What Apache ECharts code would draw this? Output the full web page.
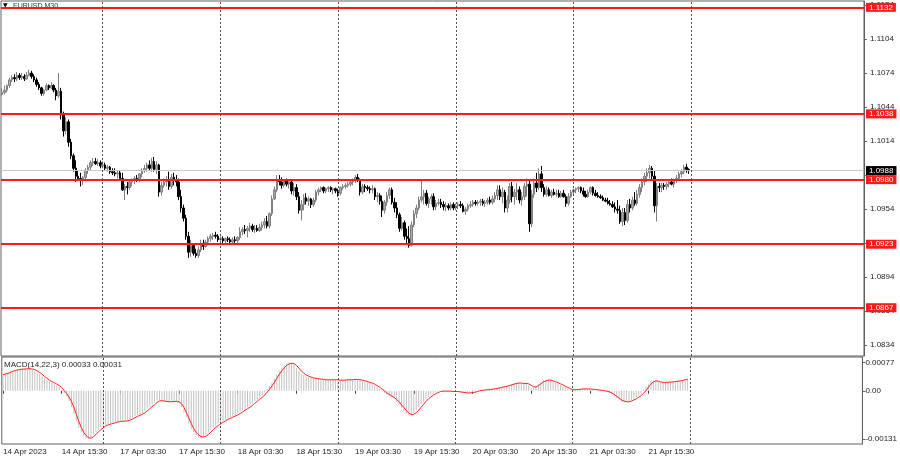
<!DOCTYPE html>
<html><head><meta charset="utf-8">
<script src="https://cdn.jsdelivr.net/npm/echarts@6/dist/echarts.min.js"></script>
<style>html,body{margin:0;padding:0;background:#fff}#c{width:900px;height:460px}</style>
</head><body><div id="c"></div>
<script>
// EURUSD M30, 14 Apr 2023 03:30 .. 21 Apr 2023 23:30 (281 bars)
const opens=[
1.1055,1.1057,1.1059,1.1063,1.1068,1.1070,1.1069,1.1072,1.1070,1.1071,
1.1069,1.1072,1.1074,1.1071,1.1068,1.1064,1.1061,1.1056,1.1059,1.1063,
1.1061,1.1063,1.1059,1.1054,1.1058,1.1037,1.1023,1.1031,1.1013,1.1001,
1.0990,1.0983,1.0981,1.0980,1.0982,1.0988,1.0991,1.0995,1.0996,1.0994,
1.0995,1.0992,1.0993,1.0990,1.0991,1.0987,1.0986,1.0985,1.0986,1.0981,
1.0971,1.0974,1.0973,1.0978,1.0980,1.0981,1.0980,1.0985,1.0988,1.0990,
1.0993,1.0990,1.0996,1.0989,1.0993,1.0969,1.0975,1.0978,1.0980,1.0974,
1.0982,1.0980,1.0978,1.0965,1.0955,1.0946,1.0930,1.0916,1.0922,1.0915,
1.0913,1.0918,1.0923,1.0921,1.0925,1.0928,1.0930,1.0931,1.0930,1.0927,
1.0928,1.0926,1.0928,1.0927,1.0925,1.0927,1.0926,1.0929,1.0934,1.0936,
1.0935,1.0937,1.0939,1.0936,1.0937,1.0935,1.0938,1.0940,1.0943,1.0939,
1.0950,1.0963,1.0971,1.0980,1.0978,1.0975,1.0979,1.0976,1.0978,1.0970,
1.0973,1.0965,1.0953,1.0958,1.0964,1.0961,1.0963,1.0958,1.0962,1.0969,
1.0971,1.0973,1.0970,1.0972,1.0973,1.0971,1.0972,1.0970,1.0968,1.0973,
1.0974,1.0975,1.0976,1.0978,1.0980,1.0982,1.0980,1.0969,1.0974,1.0973,
1.0972,1.0971,1.0972,1.0965,1.0966,1.0961,1.0953,1.0960,1.0966,1.0971,
1.0960,1.0955,1.0949,1.0937,1.0942,1.0930,1.0928,1.0922,1.0940,1.0950,
1.0955,1.0962,1.0965,1.0968,1.0959,1.0963,1.0965,1.0956,1.0959,1.0960,
1.0958,1.0956,1.0957,1.0955,1.0958,1.0955,1.0957,1.0958,1.0957,1.0952,
1.0954,1.0957,1.0958,1.0960,1.0959,1.0960,1.0961,1.0959,1.0960,1.0962,
1.0960,1.0963,1.0966,1.0971,1.0965,1.0969,1.0955,1.0962,1.0974,1.0965,
1.0969,1.0971,1.0962,1.0965,1.0974,1.0976,1.0941,1.0967,1.0977,1.0973,
1.0985,1.0973,1.0967,1.0971,1.0966,1.0969,1.0967,1.0968,1.0965,1.0968,
1.0965,1.0959,1.0965,1.0969,1.0971,1.0972,1.0973,1.0970,1.0967,1.0965,
1.0969,1.0973,1.0968,1.0966,1.0965,1.0964,1.0962,1.0961,1.0959,1.0958,
1.0956,1.0954,1.0953,1.0943,1.0951,1.0944,1.0958,1.0955,1.0962,1.0959,
1.0967,1.0973,1.0978,1.0983,1.0986,1.0990,1.0983,1.0957,1.0974,1.0973,
1.0975,1.0974,1.0976,1.0978,1.0976,1.0980,1.0981,1.0985,1.0987,1.0991,
1.0989];
const highs=[
1.1061,1.1063,1.1064,1.1070,1.1072,1.1073,1.1075,1.1074,1.1074,1.1073,
1.1075,1.1077,1.1076,1.1073,1.1070,1.1066,1.1062,1.1060,1.1065,1.1064,
1.1066,1.1064,1.1061,1.1074,1.1061,1.1040,1.1035,1.1033,1.1016,1.1003,
1.0997,1.0988,1.0986,1.0983,1.0990,1.0993,1.0997,1.0999,1.0999,1.0998,
1.0997,1.0996,1.0995,1.0993,1.0992,1.0990,1.0990,1.0988,1.0988,1.0986,
1.0976,1.0978,1.0980,1.0981,1.0983,1.0984,1.0986,1.0990,1.0993,1.0995,
1.0997,1.0999,1.1000,1.0996,1.0994,1.0978,1.0981,1.0983,1.0987,1.0985,
1.0986,1.0984,1.0981,1.0971,1.0958,1.0949,1.0934,1.0927,1.0924,1.0919,
1.0921,1.0927,1.0927,1.0927,1.0930,1.0932,1.0933,1.0934,1.0932,1.0930,
1.0930,1.0929,1.0930,1.0929,1.0929,1.0930,1.0930,1.0938,1.0938,1.0940,
1.0939,1.0942,1.0941,1.0940,1.0940,1.0941,1.0943,1.0946,1.0948,1.0951,
1.0966,1.0974,1.0984,1.0984,1.0982,1.0980,1.0981,1.0980,1.0980,1.0977,
1.0976,1.0969,1.0962,1.0967,1.0968,1.0965,1.0964,1.0964,1.0971,1.0973,
1.0974,1.0974,1.0973,1.0974,1.0974,1.0973,1.0973,1.0972,1.0974,1.0976,
1.0977,1.0978,1.0980,1.0981,1.0984,1.0985,1.0981,1.0976,1.0976,1.0975,
1.0974,1.0975,1.0973,1.0969,1.0968,1.0966,1.0962,1.0969,1.0973,1.0973,
1.0964,1.0960,1.0951,1.0947,1.0944,1.0937,1.0939,1.0943,1.0953,1.0958,
1.0965,1.0980,1.0971,1.0971,1.0965,1.0967,1.0968,1.0962,1.0963,1.0963,
1.0961,1.0960,1.0959,1.0960,1.0960,1.0959,1.0960,1.0961,1.0959,1.0956,
1.0959,1.0961,1.0962,1.0962,1.0962,1.0963,1.0963,1.0962,1.0964,1.0965,
1.0966,1.0969,1.0975,1.0975,1.0973,1.0971,1.0966,1.0977,1.0978,1.0972,
1.0977,1.0974,1.0969,1.0977,1.0981,1.0980,1.0971,1.0981,1.0986,1.0990,
1.0992,1.0976,1.0974,1.0973,1.0971,1.0972,1.0971,1.0971,1.0970,1.0971,
1.0967,1.0968,1.0971,1.0972,1.0973,1.0974,1.0974,1.0973,1.0970,1.0971,
1.0974,1.0974,1.0971,1.0969,1.0967,1.0966,1.0964,1.0964,1.0962,1.0961,
1.0960,1.0962,1.0957,1.0955,1.0955,1.0962,1.0963,1.0965,1.0969,1.0971,
1.0976,1.0981,1.0986,1.0990,1.0993,1.0992,1.0988,1.0977,1.0977,1.0977,
1.0977,1.0978,1.0980,1.0981,1.0981,1.0984,1.0987,1.0989,1.0993,1.0994,
1.0990];
const lows=[
1.1054,1.1055,1.1057,1.1061,1.1066,1.1066,1.1067,1.1068,1.1068,1.1067,
1.1068,1.1071,1.1069,1.1066,1.1062,1.1059,1.1054,1.1054,1.1058,1.1059,
1.1060,1.1057,1.1050,1.1052,1.1033,1.1018,1.1020,1.1009,1.0998,1.0987,
1.0978,1.0979,1.0974,1.0975,1.0979,1.0985,1.0988,1.0992,1.0993,1.0992,
1.0990,1.0990,1.0988,1.0987,1.0985,1.0984,1.0983,1.0981,1.0980,1.0970,
1.0962,1.0967,1.0971,1.0974,1.0976,1.0978,1.0978,1.0982,1.0986,1.0987,
1.0988,1.0987,1.0987,1.0985,1.0965,1.0966,1.0973,1.0974,1.0971,1.0972,
1.0975,1.0974,1.0962,1.0951,1.0943,1.0927,1.0911,1.0912,1.0913,1.0911,
1.0911,1.0916,1.0918,1.0920,1.0922,1.0925,1.0927,1.0928,1.0925,1.0925,
1.0923,1.0924,1.0925,1.0923,1.0923,1.0924,1.0923,1.0927,1.0931,1.0932,
1.0929,1.0934,1.0934,1.0933,1.0934,1.0934,1.0935,1.0937,1.0937,1.0937,
1.0948,1.0962,1.0969,1.0975,1.0972,1.0973,1.0974,1.0972,1.0967,1.0966,
1.0962,1.0950,1.0944,1.0953,1.0958,1.0957,1.0955,1.0956,1.0960,1.0966,
1.0969,1.0968,1.0968,1.0969,1.0969,1.0967,1.0968,1.0965,1.0966,1.0971,
1.0972,1.0973,1.0974,1.0975,1.0977,1.0978,1.0966,1.0967,1.0969,1.0970,
1.0968,1.0968,1.0962,1.0960,1.0958,1.0947,1.0950,1.0957,1.0963,1.0958,
1.0951,1.0946,1.0934,1.0935,1.0927,1.0923,1.0920,1.0921,1.0938,1.0946,
1.0953,1.0960,1.0958,1.0957,1.0955,1.0958,1.0953,1.0953,1.0957,1.0955,
1.0953,1.0952,1.0953,1.0953,1.0953,1.0953,1.0954,1.0955,1.0951,1.0949,
1.0952,1.0955,1.0956,1.0957,1.0957,1.0957,1.0957,1.0956,1.0958,1.0958,
1.0958,1.0960,1.0962,1.0962,1.0959,1.0951,1.0951,1.0959,1.0960,1.0958,
1.0962,1.0959,1.0957,1.0962,1.0965,1.0934,1.0938,1.0964,1.0969,1.0971,
1.0969,1.0965,1.0965,1.0965,1.0964,1.0966,1.0965,1.0964,1.0964,1.0964,
1.0956,1.0957,1.0964,1.0967,1.0968,1.0969,1.0968,1.0965,1.0964,1.0964,
1.0967,1.0966,1.0965,1.0964,1.0963,1.0961,1.0960,1.0958,1.0957,1.0955,
1.0951,1.0950,1.0941,1.0939,1.0940,1.0942,1.0951,1.0953,1.0957,1.0957,
1.0964,1.0969,1.0975,1.0978,1.0981,1.0979,1.0951,1.0943,1.0969,1.0969,
1.0971,1.0971,1.0973,1.0975,1.0973,1.0977,1.0979,1.0982,1.0985,1.0986,
1.0985];
const closes=[
1.1057,1.1059,1.1063,1.1068,1.1070,1.1069,1.1072,1.1070,1.1071,1.1069,
1.1072,1.1074,1.1071,1.1068,1.1064,1.1061,1.1056,1.1059,1.1063,1.1061,
1.1063,1.1059,1.1054,1.1058,1.1037,1.1023,1.1031,1.1013,1.1001,1.0990,
1.0983,1.0981,1.0980,1.0982,1.0988,1.0991,1.0995,1.0996,1.0994,1.0995,
1.0992,1.0993,1.0990,1.0991,1.0987,1.0986,1.0985,1.0986,1.0981,1.0971,
1.0974,1.0973,1.0978,1.0980,1.0981,1.0980,1.0985,1.0988,1.0990,1.0993,
1.0990,1.0996,1.0989,1.0993,1.0969,1.0975,1.0978,1.0980,1.0974,1.0982,
1.0980,1.0978,1.0965,1.0955,1.0946,1.0930,1.0916,1.0922,1.0915,1.0913,
1.0918,1.0923,1.0921,1.0925,1.0928,1.0930,1.0931,1.0930,1.0927,1.0928,
1.0926,1.0928,1.0927,1.0925,1.0927,1.0926,1.0929,1.0934,1.0936,1.0935,
1.0937,1.0939,1.0936,1.0937,1.0935,1.0938,1.0940,1.0943,1.0939,1.0950,
1.0963,1.0971,1.0980,1.0978,1.0975,1.0979,1.0976,1.0978,1.0970,1.0973,
1.0965,1.0953,1.0958,1.0964,1.0961,1.0963,1.0958,1.0962,1.0969,1.0971,
1.0973,1.0970,1.0972,1.0973,1.0971,1.0972,1.0970,1.0968,1.0973,1.0974,
1.0975,1.0976,1.0978,1.0980,1.0982,1.0980,1.0969,1.0974,1.0973,1.0972,
1.0971,1.0972,1.0965,1.0966,1.0961,1.0953,1.0960,1.0966,1.0971,1.0960,
1.0955,1.0949,1.0937,1.0942,1.0930,1.0928,1.0922,1.0940,1.0950,1.0955,
1.0962,1.0965,1.0968,1.0959,1.0963,1.0965,1.0956,1.0959,1.0960,1.0958,
1.0956,1.0957,1.0955,1.0958,1.0955,1.0957,1.0958,1.0957,1.0952,1.0954,
1.0957,1.0958,1.0960,1.0959,1.0960,1.0961,1.0959,1.0960,1.0962,1.0960,
1.0963,1.0966,1.0971,1.0965,1.0969,1.0955,1.0962,1.0974,1.0965,1.0969,
1.0971,1.0962,1.0965,1.0974,1.0976,1.0941,1.0967,1.0977,1.0973,1.0985,
1.0973,1.0967,1.0971,1.0966,1.0969,1.0967,1.0968,1.0965,1.0968,1.0965,
1.0959,1.0965,1.0969,1.0971,1.0972,1.0973,1.0970,1.0967,1.0965,1.0969,
1.0973,1.0968,1.0966,1.0965,1.0964,1.0962,1.0961,1.0959,1.0958,1.0956,
1.0954,1.0953,1.0943,1.0951,1.0944,1.0958,1.0955,1.0962,1.0959,1.0967,
1.0973,1.0978,1.0983,1.0986,1.0990,1.0983,1.0957,1.0974,1.0973,1.0975,
1.0974,1.0976,1.0978,1.0976,1.0980,1.0981,1.0985,1.0987,1.0991,1.0989,
1.0988];
const macdMain=[
0.00045,0.00047,0.00050,0.00053,0.00055,0.00057,0.00058,0.00059,0.00059,0.00060,
0.00060,0.00060,0.00058,0.00055,0.00050,0.00045,0.00039,0.00034,0.00029,0.00025,
0.00022,0.00018,0.00014,0.00010,0.00002,-0.00008,-0.00015,-0.00028,-0.00044,-0.00063,
-0.00084,-0.00101,-0.00114,-0.00123,-0.00130,-0.00131,-0.00126,-0.00119,-0.00112,-0.00106,
-0.00100,-0.00096,-0.00093,-0.00091,-0.00089,-0.00087,-0.00085,-0.00084,-0.00083,-0.00083,
-0.00082,-0.00080,-0.00077,-0.00073,-0.00069,-0.00067,-0.00065,-0.00061,-0.00055,-0.00049,
-0.00043,-0.00038,-0.00032,-0.00027,-0.00025,-0.00028,-0.00030,-0.00030,-0.00030,-0.00029,
-0.00029,-0.00030,-0.00031,-0.00045,-0.00060,-0.00072,-0.00090,-0.00105,-0.00113,-0.00121,
-0.00127,-0.00128,-0.00124,-0.00120,-0.00113,-0.00106,-0.00100,-0.00095,-0.00090,-0.00085,
-0.00082,-0.00078,-0.00075,-0.00072,-0.00069,-0.00066,-0.00062,-0.00057,-0.00053,-0.00050,
-0.00045,-0.00040,-0.00034,-0.00028,-0.00024,-0.00018,-0.00012,-0.00005,0.00005,0.00012,
0.00022,0.00034,0.00045,0.00055,0.00063,0.00069,0.00074,0.00077,0.00075,0.00070,
0.00062,0.00054,0.00047,0.00043,0.00039,0.00037,0.00035,0.00034,0.00033,0.00032,
0.00031,0.00030,0.00030,0.00029,0.00030,0.00030,0.00030,0.00029,0.00029,0.00029,
0.00030,0.00030,0.00030,0.00031,0.00031,0.00030,0.00029,0.00027,0.00025,0.00023,
0.00021,0.00018,0.00014,0.00010,0.00005,-0.00001,-0.00006,-0.00010,-0.00014,-0.00018,
-0.00023,-0.00030,-0.00038,-0.00046,-0.00055,-0.00062,-0.00067,-0.00066,-0.00060,-0.00053,
-0.00045,-0.00037,-0.00029,-0.00022,-0.00016,-0.00012,-0.00008,-0.00005,-0.00002,0,
-0.00001,-0.00001,-0.00001,-0.00002,-0.00002,-0.00002,-0.00003,-0.00004,-0.00005,-0.00006,
-0.00006,-0.00005,-0.00004,-0.00002,0,0.00001,0.00002,0.00003,0.00003,0.00004,
0.00005,0.00006,0.00008,0.00009,0.00011,0.00012,0.00014,0.00016,0.00018,0.00020,
0.00022,0.00021,0.00019,0.00020,0.00021,0.00016,0.00008,0.00008,0.00014,0.00019,
0.00024,0.00028,0.00030,0.00029,0.00027,0.00025,0.00022,0.00019,0.00016,0.00012,
0.00009,0.00005,0.00003,0.00002,0.00003,0.00004,0.00005,0.00005,0.00005,0.00004,
0.00005,0.00004,0.00003,0.00002,0.00001,0,-0.00001,-0.00003,-0.00006,-0.00010,
-0.00015,-0.00020,-0.00025,-0.00029,-0.00031,-0.00030,-0.00028,-0.00026,-0.00022,-0.00018,
-0.00014,-0.00008,0.00002,0.00010,0.00018,0.00027,0.00028,0.00025,0.00024,0.00023,
0.00023,0.00023,0.00024,0.00024,0.00025,0.00026,0.00027,0.00028,0.00030,0.00032,
0.00033];
const macdSignal=[
0.00044,0.00046,0.00047,0.00050,0.00053,0.00055,0.00057,0.00058,0.00059,0.00059,
0.00060,0.00060,0.00059,0.00058,0.00054,0.00050,0.00045,0.00039,0.00034,0.00029,
0.00025,0.00022,0.00018,0.00014,0.00009,0.00001,-0.00007,-0.00017,-0.00029,-0.00045,
-0.00064,-0.00083,-0.00100,-0.00113,-0.00122,-0.00128,-0.00129,-0.00125,-0.00119,-0.00112,
-0.00106,-0.00101,-0.00096,-0.00093,-0.00091,-0.00089,-0.00087,-0.00085,-0.00084,-0.00083,
-0.00083,-0.00082,-0.00080,-0.00077,-0.00073,-0.00070,-0.00067,-0.00064,-0.00060,-0.00055,
-0.00049,-0.00043,-0.00038,-0.00032,-0.00028,-0.00027,-0.00028,-0.00029,-0.00030,-0.00030,
-0.00029,-0.00029,-0.00030,-0.00035,-0.00045,-0.00059,-0.00074,-0.00089,-0.00103,-0.00113,
-0.00120,-0.00125,-0.00126,-0.00124,-0.00119,-0.00113,-0.00106,-0.00100,-0.00095,-0.00090,
-0.00086,-0.00082,-0.00078,-0.00075,-0.00072,-0.00069,-0.00066,-0.00062,-0.00058,-0.00053,
-0.00049,-0.00045,-0.00040,-0.00034,-0.00029,-0.00023,-0.00018,-0.00012,-0.00004,0.00004,
0.00013,0.00023,0.00034,0.00045,0.00054,0.00062,0.00069,0.00073,0.00075,0.00074,
0.00069,0.00062,0.00054,0.00048,0.00043,0.00040,0.00037,0.00035,0.00034,0.00033,
0.00032,0.00031,0.00030,0.00030,0.00030,0.00030,0.00030,0.00030,0.00029,0.00029,
0.00029,0.00030,0.00030,0.00030,0.00031,0.00031,0.00030,0.00029,0.00027,0.00025,
0.00023,0.00021,0.00018,0.00014,0.00010,0.00005,0,-0.00006,-0.00010,-0.00014,
-0.00018,-0.00024,-0.00030,-0.00038,-0.00046,-0.00054,-0.00061,-0.00065,-0.00064,-0.00060,
-0.00053,-0.00045,-0.00037,-0.00029,-0.00022,-0.00017,-0.00012,-0.00008,-0.00005,-0.00002,
-0.00001,-0.00001,-0.00001,-0.00001,-0.00002,-0.00002,-0.00002,-0.00003,-0.00004,-0.00005,
-0.00006,-0.00006,-0.00005,-0.00004,-0.00002,0,0.00001,0.00002,0.00003,0.00003,
0.00004,0.00005,0.00006,0.00008,0.00009,0.00011,0.00012,0.00014,0.00016,0.00018,
0.00020,0.00021,0.00021,0.00020,0.00020,0.00019,0.00015,0.00011,0.00010,0.00014,
0.00019,0.00024,0.00027,0.00029,0.00029,0.00027,0.00025,0.00022,0.00019,0.00016,
0.00012,0.00009,0.00006,0.00003,0.00003,0.00003,0.00004,0.00005,0.00005,0.00005,
0.00005,0.00004,0.00004,0.00003,0.00002,0.00001,0,-0.00001,-0.00003,-0.00006,
-0.00010,-0.00015,-0.00020,-0.00025,-0.00028,-0.00030,-0.00030,-0.00028,-0.00025,-0.00022,
-0.00018,-0.00013,-0.00007,0.00001,0.00010,0.00018,0.00024,0.00027,0.00026,0.00024,
0.00023,0.00023,0.00023,0.00024,0.00024,0.00025,0.00026,0.00027,0.00028,0.00030,
0.00031];
const levels=[1.1132,1.1038,1.0980,1.0923,1.0867];
const lastPrice=1.0988;
const priceTicks=[1.0834,1.0864,1.0894,1.0924,1.0954,1.0984,1.1014,1.1044,1.1074,1.1104,1.1134];
const macdTicks=[0.00077,0,-0.00131];
const xTickIndex=[0,24,48,72,96,120,144,168,192,216,240,264];
const xTickLabels=['14 Apr 2023','14 Apr 15:30','17 Apr 03:30','17 Apr 15:30','18 Apr 03:30','18 Apr 15:30','19 Apr 03:30','19 Apr 15:30','20 Apr 03:30','20 Apr 15:30','21 Apr 03:30','21 Apr 15:30'];
const daySeparators=[41,89,137,185,233,281];
const totalSlots=352;
const symbolName='EURUSD,M30';
const macdName='MACD(14,22,3)';

const FONT='"Liberation Sans", Arial, sans-serif';
const cats=Array.from({length:totalSlots},(_,i)=>String(i));
const candleData=opens.map((o,i)=>[o,closes[i],lows[i],highs[i]]);
const tickSet=new Set(xTickIndex);
const labelOf={};xTickIndex.forEach((k,j)=>{labelOf[k]=xTickLabels[j];});
const sepLines=daySeparators.map(k=>({xAxis:String(k),lineStyle:{color:'#505050',type:[2,2],width:1},label:{show:false}}));
const lvlLabel=(bg,txt)=>({show:true,position:'end',distance:2,formatter:()=>txt,color:'#fff',backgroundColor:bg,fontSize:8,fontFamily:FONT,lineHeight:9,padding:[0,3,0,3]});
const levelLines=levels.map(v=>({yAxis:v,lineStyle:{color:'#ff1a1a',width:2,type:'solid'},label:lvlLabel('#ff1a1a',v.toFixed(4))}));
const lastLine={yAxis:lastPrice,lineStyle:{color:'#c8c8c8',width:1,type:'solid'},label:lvlLabel('#000',lastPrice.toFixed(4))};

const chart=echarts.init(document.getElementById('c'),null,{renderer:'canvas',width:900,height:460});
chart.setOption({
  animation:false,
  backgroundColor:'#ffffff',
  grid:[
    {left:1,top:1,width:863,height:355,show:true,borderColor:'#606060',borderWidth:1},
    {left:1,top:357,width:863,height:87,show:true,borderColor:'#606060',borderWidth:1}
  ],
  xAxis:[
    {type:'category',gridIndex:0,data:cats,boundaryGap:true,axisLine:{show:false},axisTick:{show:false},axisLabel:{show:false},splitLine:{show:false}},
    {type:'category',gridIndex:1,data:cats,boundaryGap:true,axisLine:{show:false},
     axisTick:{show:true,alignWithLabel:true,interval:(i)=>tickSet.has(i),length:3,lineStyle:{color:'#404040'}},
     axisLabel:{interval:(i)=>tickSet.has(i),formatter:(v)=>labelOf[+v]||'',align:'left',fontSize:8,fontFamily:FONT,color:'#222',margin:4},
     splitLine:{show:false}}
  ],
  yAxis:[
    {type:'value',gridIndex:0,position:'right',min:1.08244,max:1.11376,scale:true,
     axisLine:{show:true,onZero:false,lineStyle:{color:'#606060'}},
     axisTick:{show:true,length:3,customValues:priceTicks,lineStyle:{color:'#606060'}},
     axisLabel:{customValues:priceTicks,formatter:v=>v.toFixed(4),fontSize:8,fontFamily:FONT,color:'#222',margin:6},
     splitLine:{show:false}},
    {type:'value',gridIndex:1,position:'right',min:-0.00145,max:0.00092,
     axisLine:{show:true,onZero:false,lineStyle:{color:'#606060'}},
     axisTick:{show:true,length:3,customValues:macdTicks,lineStyle:{color:'#606060'}},
     axisLabel:{customValues:macdTicks,formatter:v=>(v===0?'0.00':v.toFixed(5)),fontSize:8,fontFamily:FONT,color:'#222',margin:3},
     splitLine:{show:false}}
  ],
  series:[
    {type:'candlestick',xAxisIndex:0,yAxisIndex:0,data:candleData,barWidth:2,
     itemStyle:{color:'#a8a8a8',color0:'#000000',borderColor:'#808080',borderColor0:'#000000',borderWidth:1},
     markLine:{silent:true,precision:6,symbol:['none','none'],animation:false,data:[lastLine].concat(levelLines,sepLines)}},
    {type:'bar',xAxisIndex:1,yAxisIndex:1,data:macdMain,barWidth:1,itemStyle:{color:'#c2c2c2'},
     markLine:{silent:true,symbol:['none','none'],animation:false,data:sepLines}},
    {type:'line',xAxisIndex:1,yAxisIndex:1,data:macdSignal,showSymbol:false,symbol:'none',z:5,
     lineStyle:{color:'#ff2020',width:1}}
  ],
  graphic:[
    {type:'text',left:3,top:2,style:{text:'\u25BC',font:'6px "DejaVu Sans"',fill:'#000'}},
    {type:'text',left:13,top:3,style:{text:symbolName,font:'7px '+FONT,fill:'#333'}},
    {type:'text',left:4,top:361,style:{text:macdName+' '+macdMain[macdMain.length-1].toFixed(5)+' '+macdSignal[macdSignal.length-1].toFixed(5),font:'8px '+FONT,fill:'#222'}}
  ]
});
</script>
</body></html>
